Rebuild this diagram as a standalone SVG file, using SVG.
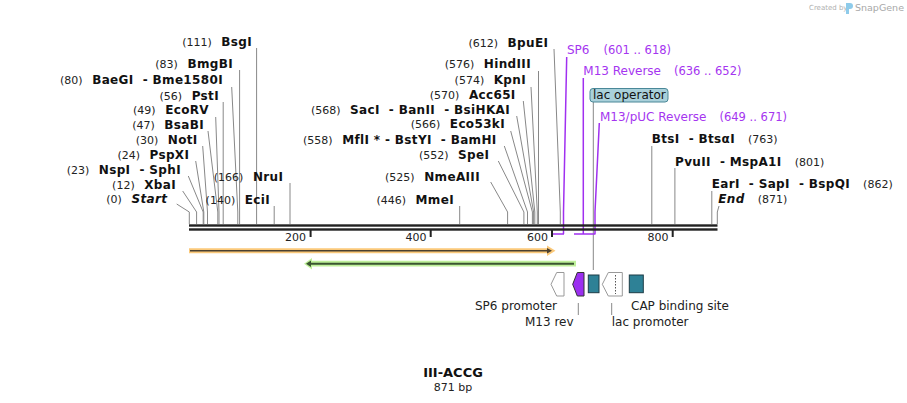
<svg xmlns="http://www.w3.org/2000/svg" width="907" height="403" viewBox="0 0 907 403">
<style>
text{font-family:"DejaVu Sans",Verdana,sans-serif;white-space:pre}
.n{font-size:11px;fill:#222}
.b{font-size:12px;font-weight:bold;fill:#111;letter-spacing:0.35px}
.i{font-style:italic}
.lead{stroke:#888;fill:none;stroke-width:1}
.pl{stroke:#a030f0;fill:none;stroke-width:1.5}
.pt{fill:#a535f0;font-size:12px}
.pr{fill:#a535f0;font-size:11.5px}
.ft{font-size:12px;fill:#222}
.tk{font-size:11px;fill:#222}
.tick{stroke:#222;stroke-width:2}
</style>
<rect width="907" height="403" fill="#fff"/>
<g id="logo">
<text x="809" y="10" style="font-size:7px;fill:#b0b0b0">Created by</text>
<path d="M846 3 h4 q3 0 3 3 q0 3 -3 3 h-1 v5 h-3 z" fill="#8ecbea"/>
<text x="855" y="11" style="font-size:9.5px;fill:#a8a8a8">SnapGene</text>
</g>
<g id="connectors">
<path class="lead" d="M256.6 48V224M239.6 70V224M231.7 87L237.8 212V224M223.2 102V224M215.7 117L219 212V224M208 131L217.8 212V224M202.7 146L207.5 212V224M195.7 161L203.8 212V224M188.3 176L203.2 212V224M182.7 191L196.6 212V224M176.7 204L189.3 212V224M290 183V224M274.2 206V224"/>
<path class="lead" d="M459.7 206V224M490.7 182L507.6 212V224M498.3 161L523.9 212V224M504.3 146L527.5 212V224M510.7 131L532.4 212V224M516.7 116L533.6 212V224M523.3 101L534.8 212V224M531 87L537.3 212V224M538.5 71V224M554 49L560.3 212V224"/>
<path class="lead" d="M651.8 146V224M674.9 168V224M711.8 191V224M719 206L717.3 212V224"/>
<path class="lead" d="M593.3 102V270M578.3 303V315M611.7 303V315"/>
<path class="pl" d="M566.7 57L563.5 212V234M583.3 78V234M599.3 123L595 212V234M552.7 234H564M574 234H595.5"/>
</g>
<g id="backbone">
<rect x="189" y="224.3" width="528.5" height="2.4" fill="#222"/>
<rect x="189" y="228.3" width="528.5" height="2.4" fill="#222"/>
<path class="tick" d="M310.6 230V237M430.7 230V237M552 230V237M672.7 230V237"/>
<text class="tk" x="306" y="241" text-anchor="end">200</text>
<text class="tk" x="426.5" y="241" text-anchor="end">400</text>
<text class="tk" x="548" y="241" text-anchor="end">600</text>
<text class="tk" x="668.5" y="241" text-anchor="end">800</text>
</g>
<g id="orf1">
<path d="M189 248.3H547V245.5L555.5 250.8L547 256V253.3H189Z" fill="#fbc97a"/>
<path d="M190 250.8H549" stroke="#4a4030" stroke-width="1.6"/>
<path d="M547 248L552 250.8L547 253.6Z" fill="#4a4030"/>
</g>
<g id="orf2">
<path d="M576 260.8H312V258L304 263.7L312 269.4V266.6H576Z" fill="#bff09a"/>
<path d="M574 263.7H311" stroke="#3a5530" stroke-width="2"/>
<path d="M311 260.5L306 263.7L311 266.9Z" fill="#3a5530"/>
</g>
<g id="sp6-promoter">
<path d="M551 284.3L556.7 272.5H564V296H556.7Z" fill="#fff" stroke="#999" stroke-width="1"/>
<text class="ft" x="475" y="310">SP6 promoter</text>
</g>
<g id="m13-rev">
<path d="M572.7 284.3L577.3 272.5H584V296H577.3Z" fill="#9b2ff0" stroke="#333" stroke-width="1"/>
<text class="ft" x="525" y="326">M13 rev</text>
</g>
<g id="lac-operator">
<rect x="588.3" y="275" width="10.7" height="17.7" fill="#2e8196" stroke="#1d3c46" stroke-width="1"/>
</g>
<g id="lac-promoter">
<path d="M602.3 284.3L608.3 272.5H622.3V296H608.3Z" fill="#fff" stroke="#999" stroke-width="1"/>
<path d="M615.5 275V294" stroke="#555" stroke-width="1" stroke-dasharray="1.5 1.5"/>
<text class="ft" x="611.7" y="326">lac promoter</text>
</g>
<g id="cap-site">
<rect x="629.3" y="275" width="14" height="17.7" fill="#2e8196" stroke="#1d3c46" stroke-width="1"/>
<text class="ft" x="631" y="310">CAP binding site</text>
</g>
<g id="left-sites">
<text x="252" y="46" text-anchor="end"><tspan class="n">(111)</tspan><tspan class="b" dx="9.5">BsgI</tspan></text>
<text x="233" y="68" text-anchor="end"><tspan class="n">(83)</tspan><tspan class="b" dx="9.5">BmgBI</tspan></text>
<text x="223" y="84" text-anchor="end"><tspan class="n">(80)</tspan><tspan class="b" dx="9.5">BaeGI  - Bme1580I</tspan></text>
<text x="219" y="99.5" text-anchor="end"><tspan class="n">(56)</tspan><tspan class="b" dx="9.5">PstI</tspan></text>
<text x="209" y="114" text-anchor="end"><tspan class="n">(49)</tspan><tspan class="b" dx="9.5">EcoRV</tspan></text>
<text x="204" y="128.5" text-anchor="end"><tspan class="n">(47)</tspan><tspan class="b" dx="9.5">BsaBI</tspan></text>
<text x="197.7" y="143.5" text-anchor="end"><tspan class="n">(30)</tspan><tspan class="b" dx="9.5">NotI</tspan></text>
<text x="189.3" y="158.5" text-anchor="end"><tspan class="n">(24)</tspan><tspan class="b" dx="9.5">PspXI</tspan></text>
<text x="181" y="174" text-anchor="end"><tspan class="n">(23)</tspan><tspan class="b" dx="9.5">NspI  - SphI</tspan></text>
<text x="176" y="188.5" text-anchor="end"><tspan class="n">(12)</tspan><tspan class="b" dx="9.5">XbaI</tspan></text>
<text x="167.3" y="203" text-anchor="end"><tspan class="n">(0)</tspan><tspan class="b i" dx="9.5">Start</tspan></text>
<text x="283.3" y="181" text-anchor="end"><tspan class="n">(166)</tspan><tspan class="b" dx="9.5">NruI</tspan></text>
<text x="270" y="203.5" text-anchor="end"><tspan class="n">(140)</tspan><tspan class="b" dx="9.5">EciI</tspan></text>
</g>
<g id="mid-sites">
<text x="548.3" y="46.5" text-anchor="end"><tspan class="n">(612)</tspan><tspan class="b" dx="9.5">BpuEI</tspan></text>
<text x="531" y="68" text-anchor="end"><tspan class="n">(576)</tspan><tspan class="b" dx="9.5">HindIII</tspan></text>
<text x="526" y="84" text-anchor="end"><tspan class="n">(574)</tspan><tspan class="b" dx="9.5">KpnI</tspan></text>
<text x="515.7" y="98.5" text-anchor="end"><tspan class="n">(570)</tspan><tspan class="b" dx="9.5">Acc65I</tspan></text>
<text x="510" y="113.5" text-anchor="end"><tspan class="n">(568)</tspan><tspan class="b" dx="9.5">SacI  - BanII  - BsiHKAI</tspan></text>
<text x="505" y="128" text-anchor="end"><tspan class="n">(566)</tspan><tspan class="b" dx="9.5">Eco53kI</tspan></text>
<text x="496.7" y="143.5" text-anchor="end"><tspan class="n">(558)</tspan><tspan class="b" dx="9.5">MflI * - BstYI  - BamHI</tspan></text>
<text x="489.3" y="158.5" text-anchor="end"><tspan class="n">(552)</tspan><tspan class="b" dx="9.5">SpeI</tspan></text>
<text x="480" y="181" text-anchor="end"><tspan class="n">(525)</tspan><tspan class="b" dx="9.5">NmeAIII</tspan></text>
<text x="454" y="203.5" text-anchor="end"><tspan class="n">(446)</tspan><tspan class="b" dx="9.5">MmeI</tspan></text>
</g>
<g id="right-sites">
<text x="651.7" y="143"><tspan class="b">BtsI  - BtsαI</tspan><tspan class="n" dx="13">(763)</tspan></text>
<text x="675" y="165.7"><tspan class="b">PvuII  - MspA1I</tspan><tspan class="n" dx="13">(801)</tspan></text>
<text x="711.7" y="188.3"><tspan class="b">EarI  - SapI  - BspQI</tspan><tspan class="n" dx="13">(862)</tspan></text>
<text x="718.3" y="203"><tspan class="b i">End</tspan><tspan class="n" dx="13">(871)</tspan></text>
</g>
<g id="sp6-label">
<text x="567" y="54"><tspan class="pt">SP6</tspan><tspan class="pr" dx="14">(601 .. 618)</tspan></text>
</g>
<g id="m13-reverse-label">
<text x="583.3" y="75"><tspan class="pt">M13 Reverse</tspan><tspan class="pr" dx="13">(636 .. 652)</tspan></text>
</g>
<g id="lac-operator-label">
<rect x="590" y="88.5" width="78" height="13.5" rx="3" fill="#a9d0da" stroke="#4a8898" stroke-width="1"/>
<text x="593" y="99" style="font-size:12px;fill:#111">lac operator</text>
</g>
<g id="m13-puc-label">
<text x="600" y="120.5"><tspan class="pt">M13/pUC Reverse</tspan><tspan class="pr" dx="13">(649 .. 671)</tspan></text>
</g>
<g id="title">
<text x="453" y="377" text-anchor="middle" style="font-size:13px;font-weight:bold;fill:#111">III-ACCG</text>
<text x="453" y="391" text-anchor="middle" style="font-size:11px;fill:#222">871 bp</text>
</g>
</svg>
